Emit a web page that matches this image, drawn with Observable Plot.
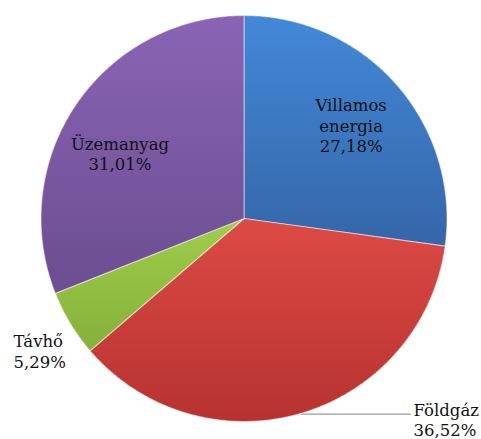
<!DOCTYPE html>
<html><head><meta charset="utf-8">
<script src="https://cdn.jsdelivr.net/npm/d3@7"></script>
<script src="https://cdn.jsdelivr.net/npm/@observablehq/plot@0.6"></script>
<style>html,body{margin:0;padding:0;background:#fff;overflow:hidden}</style>
</head><body><div id="chart"></div>
<script>
// ---- data ----
const categories = ["Villamos energia", "Földgáz", "Távhő", "Üzemanyag"];
const shares = [27.18, 36.52, 5.29, 31.01];
const labelNames = ["Villamos\nenergia", "Földgáz", "Távhő", "Üzemanyag"];
const colorTop = ["#4388d8", "#dd4a45", "#9fcd4a", "#8a64b5"];
const colorBottom = ["#3466a8", "#b7322f", "#85b03a", "#6b4d90"];

// ---- derived geometry ----
const total = d3.sum(shares);
const pct = v => v.toFixed(2).replace(".", ",") + "%";
let acc = 0;
const slices = categories.map((c, i) => {
  const a0 = acc / total * 2 * Math.PI;
  acc += shares[i];
  const a1 = acc / total * 2 * Math.PI;
  return {c, i, a0, a1, mid: (a0 + a1) / 2, label: labelNames[i] + "\n" + pct(shares[i])};
});
const pts = [];
for (const s of slices) {
  pts.push({c: s.c, x: 0, y: 0});
  const n = Math.max(4, Math.ceil((s.a1 - s.a0) * 180 / Math.PI * 2));
  for (let k = 0; k <= n; k++) {
    const a = s.a0 + (s.a1 - s.a0) * k / n;
    pts.push({c: s.c, x: Math.sin(a), y: Math.cos(a)});
  }
  pts.push({c: s.c, x: 0, y: 0});
}
const villamos = slices[0], fold = slices[1], tav = slices[2], uzem = slices[3];

const font = "DejaVu Serif, Georgia, serif";
const fs = 16.5;
const textOpts = {text: "label", fontSize: fs, fontFamily: font, lineHeight: 1.25, fill: "#111"};

const chart = Plot.plot({
  width: 481, height: 439,
  marginLeft: 40.5, marginRight: 34.5, marginTop: 15, marginBottom: 18,
  x: {domain: [-1, 1], axis: null},
  y: {domain: [-1, 1], axis: null},
  color: {type: "ordinal", domain: categories, range: categories.map((_, i) => `url(#grad${i})`)},
  style: {background: "#fff", overflow: "visible"},
  marks: [
    Plot.line([{x: Math.sin(fold.mid), y: Math.cos(fold.mid) - 0.004}, {x: 0.82, y: Math.cos(fold.mid) - 0.004}],
      {x: "x", y: "y", stroke: "#9a9a9a", strokeWidth: 1.2}),
    Plot.line(pts, {x: "x", y: "y", z: "c", fill: "c", stroke: "#ffffff", strokeOpacity: 0.45, strokeWidth: 1.2, strokeLinejoin: "round", curve: "linear"}),
    Plot.text([villamos], {...textOpts, x: d => 0.7 * Math.sin(d.mid), y: d => 0.7 * Math.cos(d.mid)}),
    Plot.text([uzem], {...textOpts, x: d => 0.69 * Math.sin(d.mid - 0.113), y: d => 0.69 * Math.cos(d.mid - 0.113)}),
    Plot.text([tav], {...textOpts, x: () => -1.135, y: () => -0.653, textAnchor: "start"}),
    Plot.text([fold], {...textOpts, x: () => 0.835, y: () => -0.99, textAnchor: "start"})
  ]
});

const defs = d3.select(chart).insert("defs", ":first-child");
categories.forEach((c, i) => {
  const g = defs.append("linearGradient").attr("id", `grad${i}`)
    .attr("x1", 0).attr("y1", 0).attr("x2", 0).attr("y2", 1);
  g.append("stop").attr("offset", "0%").attr("stop-color", colorTop[i]);
  g.append("stop").attr("offset", "100%").attr("stop-color", colorBottom[i]);
});
document.getElementById("chart").append(chart);
</script>
</body></html>
